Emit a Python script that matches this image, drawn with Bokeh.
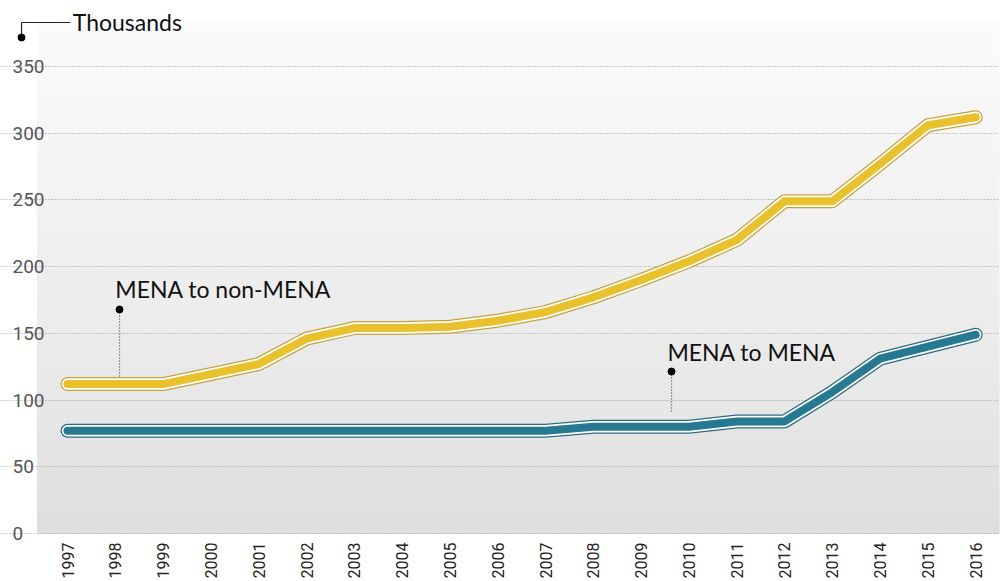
from bokeh.plotting import figure
from bokeh.models import Range1d, FixedTicker, Label, ColumnDataSource
from bokeh.core.properties import value
from bokeh.embed import file_html
from bokeh.resources import INLINE

# ---- data ----
years = list(range(1997, 2017))
mena_to_non_mena = [112, 112, 112, 119.5, 127, 146, 154, 154, 155, 159.5, 166,
                    177, 190, 204, 220, 249, 249, 277, 306, 312]
mena_to_mena = [77, 77, 77, 77, 77, 77, 77, 77, 77, 77, 77,
                80, 80, 80, 84, 84, 106, 131, 140, 149]
y_ticks = [0, 50, 100, 150, 200, 250, 300, 350]
y_tick_labels = [str(v) for v in y_ticks]
unit_label = "Thousands"
series_labels = ["MENA to non-MENA", "MENA to MENA"]

# ---- styling ----
YELLOW, YELLOW_EDGE = "#E8C12C", "#C9A23E"
TEAL, TEAL_EDGE = "#277891", "#2A6D83"
TICK_FONT = "Roboto"
LABEL_FONT = "Lato"

x0, x1 = 1995.598, 2016.498      # full frame
bg_left = 1996.372                # left edge of the shaded plot area
grid_left = 1996.477
label_x = 1995.849
y0, y1 = -13.5, 399.5
bg_bottom, bg_top = 0, 384.5

p = figure(frame_width=999, frame_height=551, x_range=Range1d(x0, x1),
           y_range=Range1d(y0, y1), output_backend="svg", toolbar_location=None,
           min_border_left=0, min_border_right=4, min_border_top=0, min_border_bottom=0)
p.outline_line_color = None
p.background_fill_color = "white"
p.border_fill_color = "white"

# gradient background in the plot area
n = 64
tops, bottoms, cols = [], [], []
for i in range(n):
    b = bg_bottom + (bg_top - bg_bottom) * i / n
    t = bg_bottom + (bg_top - bg_bottom) * (i + 1) / n
    f = (i + 0.5) / n
    g = int(round(221 + (251 - 221) * (f ** 0.8)))
    bottoms.append(b)
    tops.append(t)
    cols.append("#%02x%02x%02x" % (g, g, g))
p.quad(left=bg_left, right=x1, bottom=bottoms, top=tops, fill_color=cols, line_color=cols,
       line_width=1, level="image")

# axes
p.yaxis.visible = False
p.xaxis.ticker = FixedTicker(ticks=years)
p.xaxis.major_label_orientation = 1.5708
p.xaxis.axis_line_color = None
p.xaxis.major_tick_line_color = None
p.xaxis.minor_tick_line_color = None
p.xaxis.major_tick_out = 0
p.xaxis.major_tick_in = 0
p.xaxis.minor_tick_out = 0
p.xaxis.major_label_text_font = TICK_FONT
p.xaxis.major_label_text_font_size = "16px"
p.xaxis.major_label_text_color = "#222222"
p.xaxis.major_label_standoff = -9

p.xgrid.grid_line_color = None
p.ygrid.ticker = FixedTicker(ticks=y_ticks)
p.ygrid.bounds = (grid_left, x1)
p.ygrid.grid_line_color = "#9a9a9a"
p.ygrid.grid_line_dash = "1 2"
p.ygrid.grid_line_width = 1
p.ygrid.level = "underlay"

# y tick labels (left aligned, like the original)
p.text(x=[label_x] * len(y_ticks), y=y_ticks, text=y_tick_labels,
       text_font=value(TICK_FONT), text_font_size=value("19px"), text_color="#555555",
       text_align="left", text_baseline="middle")

# series lines: outline, white gap, colored core
src = ColumnDataSource(dict(x=years, a=mena_to_non_mena, b=mena_to_mena))
for col, core, edge in (("b", TEAL, TEAL_EDGE), ("a", YELLOW, YELLOW_EDGE)):
    p.line("x", col, source=src, line_color=edge, line_width=14,
           line_cap="round", line_join="round")
    p.line("x", col, source=src, line_color="white", line_width=11.5,
           line_cap="round", line_join="round")
    p.line("x", col, source=src, line_color=core, line_width=8,
           line_cap="round", line_join="round")

# series annotations
ann = [
    (series_labels[0], 1998.0, 183.3, 1998.088, 167.9, 116.9),
    (series_labels[1], 2009.55, 136.4, 2009.636, 121.4, 89.9),
]
for text, tx, ty, dx, dy, dbot in ann:
    p.segment(x0=[dx], y0=[dy], x1=[dx], y1=[dbot], line_color="#444444",
              line_width=1.2, line_dash="1 2")
    p.scatter(x=[dx], y=[dy], size=7, color="black")
    p.add_layout(Label(x=tx, y=ty, text=text, text_font=LABEL_FONT,
                       text_font_size="23px", text_color="#111111",
                       text_baseline="alphabetic"))

# unit label "Thousands"
ux_dot, uy_dot = 1996.038, 371.8
uy_line, ux_line_end = 383.0, 1997.06
p.segment(x0=[ux_dot, ux_dot], y0=[uy_dot, uy_line], x1=[ux_dot, ux_line_end],
          y1=[uy_line, uy_line], line_color="#222222", line_width=1.2)
p.scatter(x=[ux_dot], y=[uy_dot], size=7, color="black")
p.add_layout(Label(x=1997.11, y=383.5, text=unit_label, text_font=LABEL_FONT,
                   text_font_size="23px", text_color="#111111", text_baseline="alphabetic"))

open("out.html", "w").write(file_html(p, INLINE))
